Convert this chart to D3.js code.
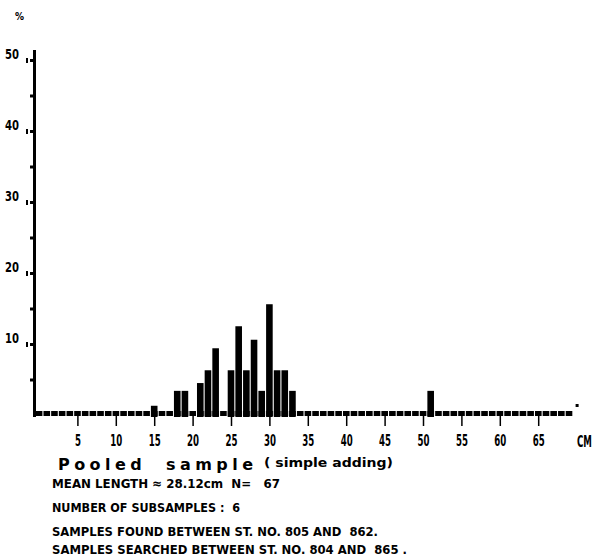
<!DOCTYPE html>
<html>
<head>
<meta charset="utf-8">
<script src="https://cdn.jsdelivr.net/npm/d3@7"></script>
<style>
  body { margin: 0; background: #fff; }
  svg text { white-space: pre; fill: #000; }
</style>
</head>
<body>
<div id="chart"></div>
<script>
// length classes (cm) that have fish, and their share in percent
var lengthBins = [15, 18, 19, 21, 22, 23, 25, 26, 27, 28, 29, 30, 31, 32, 33, 51];
var percents   = [1.3, 3.4, 3.4, 4.5, 6.3, 9.4, 6.3, 12.5, 6.3, 10.6, 3.4, 15.6, 6.3, 6.3, 3.4, 3.4];
var xTickValues = [5, 10, 15, 20, 25, 30, 35, 40, 45, 50, 55, 60, 65];
var yTickValues = [5, 10, 15, 20, 25, 30, 35, 40, 45, 50];
var yLabelValues = [10, 20, 30, 40, 50];
var infoLines = [
  "MEAN LENGTH \u2248 28.12cm  N=   67",
  "NUMBER OF SUBSAMPLES :  6",
  "SAMPLES FOUND BETWEEN ST. NO. 805 AND  862.",
  "SAMPLES SEARCHED BETWEEN ST. NO. 804 AND  865 ."
];

var svgWidth = 599;
var svgHeight = 558;

var svg = d3.select("#chart")
  .append("svg")
  .attr("width", svgWidth)
  .attr("height", svgHeight);

var xScale = d3.scaleLinear().domain([0, 65]).range([39, 538.2]);
var yScale = d3.scaleLinear().domain([0, 50]).range([415, 60]);

var plotFont = "'DejaVu Sans Condensed', 'DejaVu Sans', sans-serif";

// dashed looking baseline: one small block per 1 cm class
svg.append("g").selectAll("rect")
  .data(d3.range(0, 70))
  .enter().append("rect")
  .attr("x", function(d) { return xScale(d) - 3.2; })
  .attr("y", yScale(0) - 4)
  .attr("width", 6.6)
  .attr("height", 5)
  .attr("fill", "#000");

// small end marker
svg.append("rect")
  .attr("x", xScale(70) - 1)
  .attr("y", yScale(0) - 11)
  .attr("width", 3)
  .attr("height", 3)
  .attr("fill", "#000");

// bars
svg.append("g").selectAll("rect")
  .data(lengthBins)
  .enter().append("rect")
  .attr("x", function(d) { return xScale(d) - 3.3; })
  .attr("y", function(d, i) { return yScale(percents[i]); })
  .attr("width", 6.6)
  .attr("height", function(d, i) { return yScale(0) - yScale(percents[i]) + 2; })
  .attr("fill", "#000");

// x axis (ticks hang below the baseline)
var bottomAxis = d3.axisBottom(xScale)
  .tickValues(xTickValues)
  .tickSize(10)
  .tickSizeOuter(0)
  .tickPadding(9);

var xAxisG = svg.append("g")
  .attr("transform", "translate(0," + (yScale(0) + 1) + ")")
  .call(bottomAxis);
xAxisG.select(".domain").remove();
xAxisG.selectAll(".tick line").attr("stroke", "#000").attr("stroke-width", 1.5);
xAxisG.selectAll(".tick text")
  .attr("dy", "0.71em")
  .style("font-family", plotFont)
  .style("font-weight", "bold")
  .style("font-size", "16px")
  .attr("textLength", function(d) { return String(d).length * 6; })
  .attr("lengthAdjust", "spacingAndGlyphs");

// unit label, squeezed with a transform so it stays inside the page
svg.append("text")
  .attr("transform", "translate(577,447) scale(0.6,1)")
  .style("font-family", plotFont)
  .style("font-weight", "bold")
  .style("font-size", "16px")
  .text("CM");

// y axis
var leftAxis = d3.axisLeft(yScale)
  .tickValues(yTickValues)
  .tickSize(3)
  .tickSizeOuter(0)
  .tickPadding(11)
  .tickFormat(function(d) { return yLabelValues.indexOf(d) >= 0 ? d : ""; });

var yAxisG = svg.append("g")
  .attr("transform", "translate(33,0)")
  .call(leftAxis);
yAxisG.select(".domain").remove();
yAxisG.selectAll(".tick line").attr("stroke", "#000").attr("stroke-width", 3);
yAxisG.selectAll(".tick text")
  .attr("dy", "-0.1em")
  .style("font-family", plotFont)
  .style("font-weight", "bold")
  .style("font-size", "14px")
  .attr("textLength", function(d) { return yLabelValues.indexOf(d) >= 0 ? 14 : null; })
  .attr("lengthAdjust", "spacingAndGlyphs");

// little marks beside the labelled ticks
yAxisG.selectAll(".mark")
  .data(yLabelValues)
  .enter().append("rect")
  .attr("class", "mark")
  .attr("x", -7)
  .attr("y", function(d) { return yScale(d) - 2; })
  .attr("width", 2)
  .attr("height", 5)
  .attr("fill", "#000");

svg.append("line")
  .attr("x1", 34.5).attr("x2", 34.5)
  .attr("y1", yScale(50) - 10)
  .attr("y2", yScale(0) + 2)
  .attr("stroke", "#000")
  .attr("stroke-width", 3);

svg.append("text")
  .attr("x", 15)
  .attr("y", 20)
  .style("font-family", plotFont)
  .style("font-weight", "bold")
  .style("font-size", "10px")
  .text("%");

// title lines under the chart
svg.append("text")
  .attr("x", 58)
  .attr("y", 470)
  .attr("textLength", 195)
  .attr("lengthAdjust", "spacing")
  .style("font-family", "'DejaVu Sans', sans-serif")
  .style("font-weight", "bold")
  .style("font-size", "16px")
  .text("Pooled  sample");

svg.append("text")
  .attr("x", 264)
  .attr("y", 467)
  .attr("textLength", 129)
  .attr("lengthAdjust", "spacingAndGlyphs")
  .style("font-family", plotFont)
  .style("font-weight", "bold")
  .style("font-size", "12px")
  .text("( simple adding)");

var infoY = [488, 512, 536, 554];
var infoLen = [228, 188, 326, 355];
svg.append("g").selectAll("text")
  .data(infoLines)
  .enter().append("text")
  .attr("x", 52)
  .attr("y", function(d, i) { return infoY[i]; })
  .attr("textLength", function(d, i) { return infoLen[i]; })
  .attr("lengthAdjust", "spacingAndGlyphs")
  .style("font-family", plotFont)
  .style("font-weight", "bold")
  .style("font-size", "13px")
  .text(function(d) { return d; });
</script>
</body>
</html>
